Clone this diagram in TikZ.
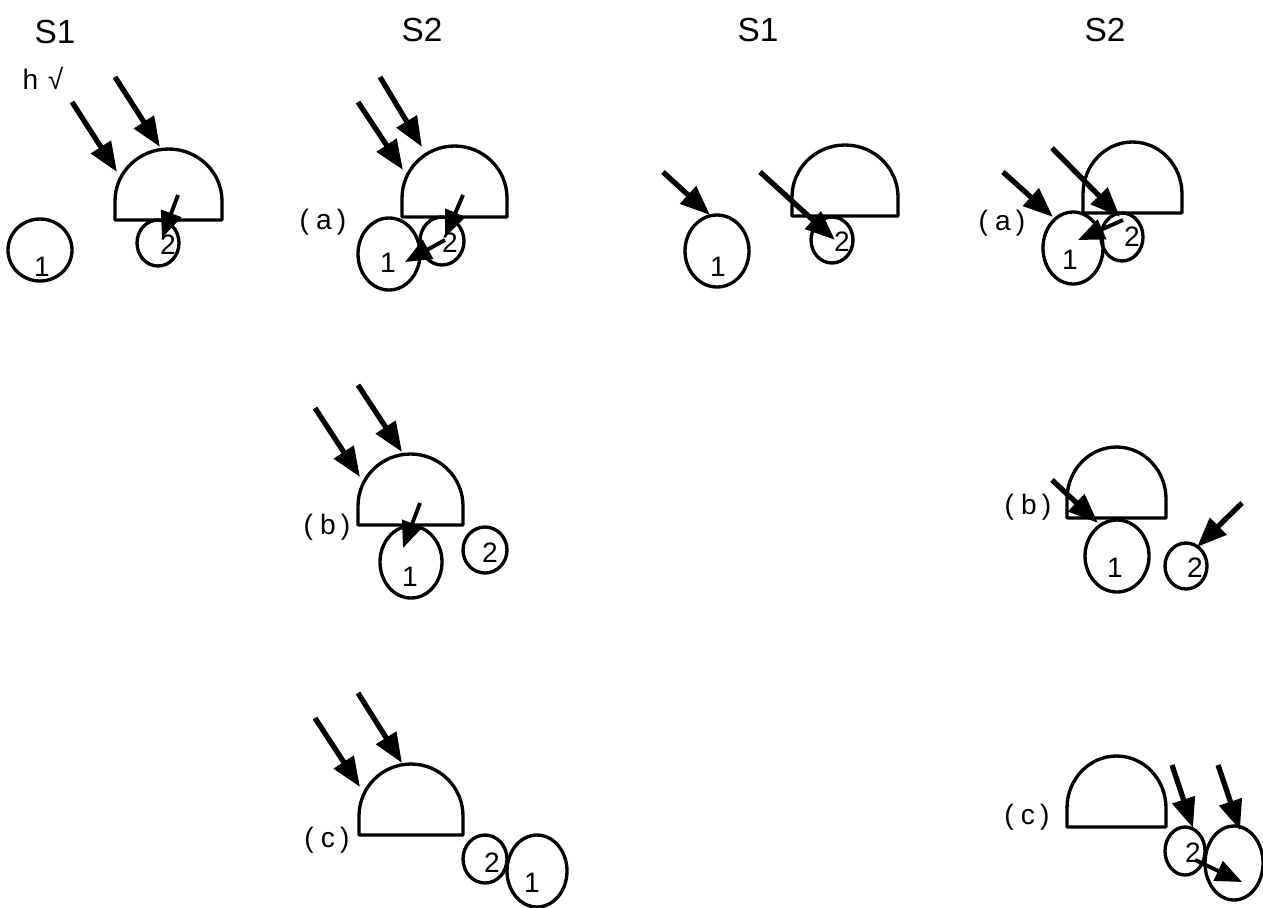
\documentclass[tikz,border=0pt]{standalone}
\usepackage{fontspec}
\setmainfont{Liberation Sans}
\usetikzlibrary{arrows.meta}
\newcommand{\dome}[3]{\draw[shell] (#1,#2) -- ++(0,-19)
  arc[start angle=180,end angle=360,x radius=#3/2,y radius=52] -- ++(0,19) -- cycle;}
\tikzset{
  shell/.style={line width=1.9pt,line join=round},
  ptl/.style={line width=1.9pt},
  photon/.style={-{Triangle[length=17pt,width=13pt]},line width=3pt},
  kick/.style={-{Triangle[length=15pt,width=12pt]},line width=2.2pt},
  num/.style={font=\fontsize{16}{18}\selectfont,inner sep=0pt},
  tag/.style={font=\fontsize{16}{18}\selectfont,inner sep=0pt},
  head/.style={font=\fontsize{19}{22}\selectfont,inner sep=0pt},
}
\begin{document}
\begin{tikzpicture}[x=0.02cm,y=-0.02cm]
\useasboundingbox (0,0) rectangle (1263,907);
% titles
\node[head] (t1) at (55,32) {S1};
\node[head] (t2) at (422,30) {S2};
\node[head] (t3) at (758,30) {S1};
\node[head] (t4) at (1105,30) {S2};
\node[tag] (hv) at (43,78) {h \hspace{1pt}√};
% S1, left
\dome{115}{220}{107}
\draw[ptl] (40,250) ellipse[x radius=32,y radius=31];
\draw[ptl] (158,243) ellipse[x radius=21,y radius=23];
\node[num] (a1) at (42,267) {1};
\node[num] (a2) at (168,245) {2};
\draw[photon] (72,102) -- (117,172);
\draw[photon] (115,77) -- (160,147);
\draw[kick] (178,195) -- (162,238);
% S2 (a), left
\dome{402}{217}{105}
\draw[ptl] (389,254) ellipse[x radius=31,y radius=36];
\draw[ptl] (442,241) ellipse[x radius=22,y radius=24];
\node[num] (b1) at (388,263) {1};
\node[num] (b2) at (450,243) {2};
\node[tag] (ta) at (323,222) {(\hspace{4pt}a\hspace{3pt})};
\draw[photon] (358,102) -- (403,170);
\draw[photon] (380,77) -- (422,147);
\draw[kick] (463,195) -- (445,237);
\draw[kick] (445,240) -- (405,262);
% S1, right
\dome{792}{216}{106}
\draw[ptl] (717,251) ellipse[x radius=32,y radius=36];
\draw[ptl] (832,240) ellipse[x radius=21,y radius=23];
\node[num] (c1) at (718,267) {1};
\node[num] (c2) at (842,242) {2};
\draw[photon] (663,172) -- (710,215);
\draw[photon] (760,172) -- (835,240);
% S2 (a), right
\dome{1083}{213}{99}
\draw[ptl] (1073,248) ellipse[x radius=30,y radius=36];
\draw[ptl] (1122,237) ellipse[x radius=21,y radius=24];
\node[num] (d1) at (1070,260) {1};
\node[num] (d2) at (1132,237) {2};
\node[tag] (tb) at (1002,223) {(\hspace{4pt}a\hspace{3pt})};
\draw[photon] (1003,172) -- (1053,217);
\draw[photon] (1052,148) -- (1120,217);
\draw[kick] (1123,220) -- (1078,240);
% S2 (b), left
\dome{358}{525}{105}
\draw[ptl] (411,562) ellipse[x radius=31,y radius=36];
\draw[ptl] (485,550) ellipse[x radius=22,y radius=23];
\node[num] (e1) at (410,577) {1};
\node[num] (e2) at (490,553) {2};
\node[tag] (tc) at (327,527) {(\hspace{4pt}b\hspace{3pt})};
\draw[photon] (315,408) -- (360,477);
\draw[photon] (358,385) -- (402,452);
\draw[kick] (420,503) -- (403,548);
% S2 (b), right
\dome{1067}{518}{99}
\draw[ptl] (1117,556) ellipse[x radius=32,y radius=36];
\draw[ptl] (1186,566) ellipse[x radius=21,y radius=23];
\node[num] (f1) at (1115,568) {1};
\node[num] (f2) at (1195,568) {2};
\node[tag] (td) at (1028,507) {(\hspace{4pt}b\hspace{3pt})};
\draw[photon] (1052,480) -- (1098,523);
\draw[photon] (1242,503) -- (1197,547);
% S2 (c), left
\dome{359}{835}{104}
\draw[ptl] (485,859) ellipse[x radius=22,y radius=24];
\draw[ptl] (537,871) ellipse[x radius=30,y radius=36];
\node[num] (g2) at (492,863) {2};
\node[num] (g1) at (532,883) {1};
\node[tag] (te) at (327,840) {(\hspace{4pt}c\hspace{3pt})};
\draw[photon] (315,718) -- (360,787);
\draw[photon] (358,693) -- (402,763);
% S2 (c), right
\dome{1067}{827}{99}
\draw[ptl] (1185,851) ellipse[x radius=20,y radius=24];
\draw[ptl] (1234,863) ellipse[x radius=29,y radius=37];
\node[num] (h2) at (1193,853) {2};
\node[tag] (tf) at (1027,817) {(\hspace{4pt}c\hspace{3pt})};
\draw[photon] (1172,765) -- (1193,828);
\draw[photon] (1218,765) -- (1240,830);
\draw[kick] (1195,860) -- (1242,882);
\end{tikzpicture}
\end{document}
